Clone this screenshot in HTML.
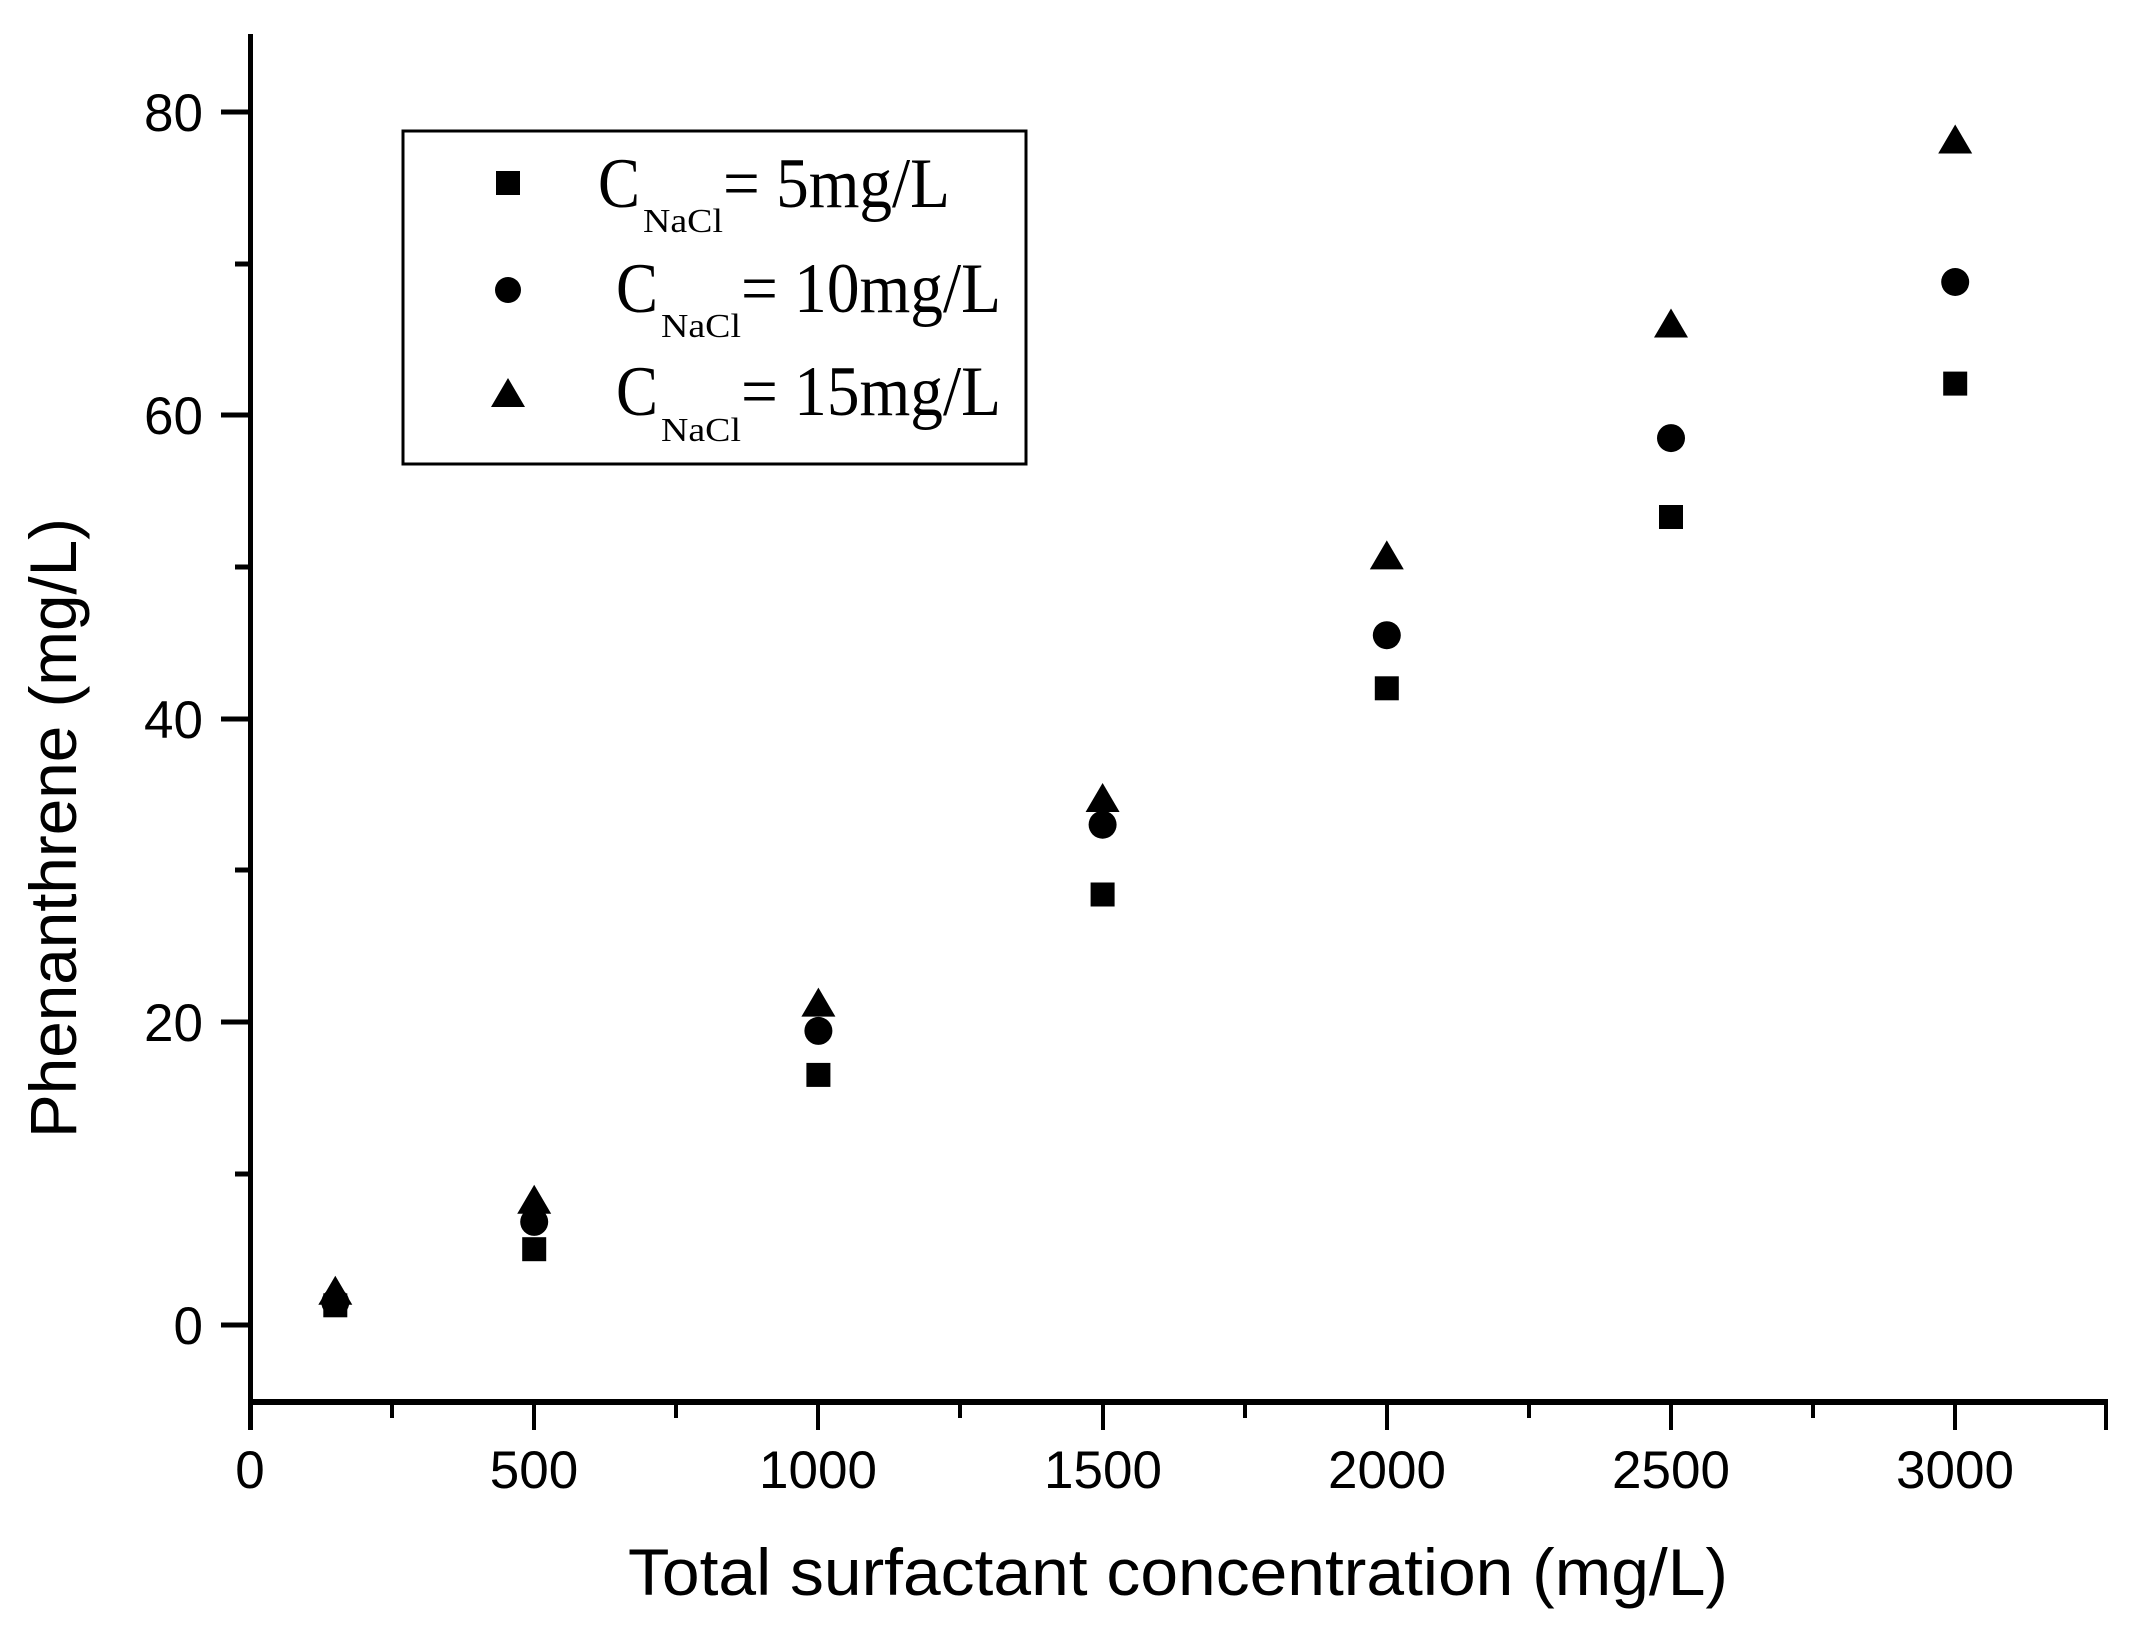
<!DOCTYPE html>
<html><head><meta charset="utf-8"><style>html,body{margin:0;padding:0;background:#fff}svg{display:block}</style></head>
<body>
<svg width="2131" height="1627" viewBox="0 0 2131 1627" xmlns="http://www.w3.org/2000/svg">
<rect width="2131" height="1627" fill="#fff"/>
<g stroke="#000" fill="none">
<line x1="250.5" y1="34" x2="250.5" y2="1430" stroke-width="5"/>
<line x1="248" y1="1402" x2="2108" y2="1402" stroke-width="6"/>
<g stroke-width="5">
<line x1="221" y1="112" x2="250" y2="112"/>
<line x1="221" y1="415" x2="250" y2="415"/>
<line x1="221" y1="719" x2="250" y2="719"/>
<line x1="221" y1="1022" x2="250" y2="1022"/>
<line x1="221" y1="1325" x2="250" y2="1325"/>
<line x1="235" y1="264" x2="250" y2="264"/>
<line x1="235" y1="567" x2="250" y2="567"/>
<line x1="235" y1="870" x2="250" y2="870"/>
<line x1="235" y1="1174" x2="250" y2="1174"/>
</g>
<g stroke-width="4">
<line x1="250" y1="1402" x2="250" y2="1430"/>
<line x1="534" y1="1402" x2="534" y2="1430"/>
<line x1="818" y1="1402" x2="818" y2="1430"/>
<line x1="1103" y1="1402" x2="1103" y2="1430"/>
<line x1="1387" y1="1402" x2="1387" y2="1430"/>
<line x1="1671" y1="1402" x2="1671" y2="1430"/>
<line x1="1955" y1="1402" x2="1955" y2="1430"/>
<line x1="392" y1="1402" x2="392" y2="1418"/>
<line x1="676" y1="1402" x2="676" y2="1418"/>
<line x1="960" y1="1402" x2="960" y2="1418"/>
<line x1="1245" y1="1402" x2="1245" y2="1418"/>
<line x1="1529" y1="1402" x2="1529" y2="1418"/>
<line x1="1813" y1="1402" x2="1813" y2="1418"/>
<line x1="2106" y1="1402" x2="2106" y2="1430"/>
</g>
<rect x="403" y="131" width="623" height="333" stroke-width="3"/>
</g>
<g font-family="Liberation Sans, sans-serif" font-size="53" fill="#000">
<g text-anchor="end">
<text x="203" y="131">80</text>
<text x="203" y="434">60</text>
<text x="203" y="738">40</text>
<text x="203" y="1041">20</text>
<text x="203" y="1344">0</text>
</g>
<g text-anchor="middle">
<text x="250" y="1488">0</text>
<text x="534" y="1488">500</text>
<text x="818" y="1488">1000</text>
<text x="1103" y="1488">1500</text>
<text x="1387" y="1488">2000</text>
<text x="1671" y="1488">2500</text>
<text x="1955" y="1488">3000</text>
</g>
<text x="628" y="1595" font-size="66" textLength="1100" lengthAdjust="spacingAndGlyphs">Total surfactant concentration (mg/L)</text>
<text transform="translate(76,1138) rotate(-90)" font-size="66" textLength="620" lengthAdjust="spacingAndGlyphs">Phenanthrene (mg/L)</text>
</g>
<g font-family="Liberation Serif, serif" fill="#000">
<text x="598" y="207" font-size="71" textLength="42" lengthAdjust="spacingAndGlyphs">C</text>
<text x="643" y="232" font-size="34" textLength="80" lengthAdjust="spacingAndGlyphs">NaCl</text>
<text x="723" y="207" font-size="71" textLength="227" lengthAdjust="spacingAndGlyphs">= 5mg/L</text>
<text x="616" y="312" font-size="71" textLength="42" lengthAdjust="spacingAndGlyphs">C</text>
<text x="661" y="337" font-size="34" textLength="80" lengthAdjust="spacingAndGlyphs">NaCl</text>
<text x="741" y="312" font-size="71" textLength="260" lengthAdjust="spacingAndGlyphs">= 10mg/L</text>
<text x="616" y="415" font-size="71" textLength="42" lengthAdjust="spacingAndGlyphs">C</text>
<text x="661" y="441" font-size="34" textLength="80" lengthAdjust="spacingAndGlyphs">NaCl</text>
<text x="741" y="415" font-size="71" textLength="260" lengthAdjust="spacingAndGlyphs">= 15mg/L</text>
</g>
<g fill="#000">
<rect x="496" y="171" width="24" height="24"/>
<circle cx="508" cy="290" r="13"/>
<polygon points="508,378 525,407 491,407"/>
</g>
<g fill="#000">
<rect x="323.3" y="1293.3" width="24" height="24"/>
<rect x="522.2" y="1237.2" width="24" height="24"/>
<rect x="806.4" y="1062.9" width="24" height="24"/>
<rect x="1090.6" y="882.5" width="24" height="24"/>
<rect x="1374.8" y="676.3" width="24" height="24"/>
<rect x="1659" y="505" width="24" height="24"/>
<rect x="1943.2" y="371.6" width="24" height="24"/>
<circle cx="335.3" cy="1302.3" r="14"/>
<circle cx="534.2" cy="1221.9" r="14"/>
<circle cx="818.4" cy="1030.9" r="14"/>
<circle cx="1102.6" cy="824.7" r="14"/>
<circle cx="1386.8" cy="635.2" r="14"/>
<circle cx="1671" cy="438.1" r="14"/>
<circle cx="1955.2" cy="282" r="14"/>
<polygon points="335.3,1275.7 352.3,1304.7 318.3,1304.7"/>
<polygon points="534.2,1184.7 551.2,1213.7 517.2,1213.7"/>
<polygon points="818.4,987.6 835.4,1016.6 801.4,1016.6"/>
<polygon points="1102.6,783 1119.6,812 1085.6,812"/>
<polygon points="1386.8,540.4 1403.8,569.4 1369.8,569.4"/>
<polygon points="1671,308.5 1688,337.5 1654,337.5"/>
<polygon points="1955.2,124.5 1972.2,153.5 1938.2,153.5"/>
</g>
</svg>
</body></html>
